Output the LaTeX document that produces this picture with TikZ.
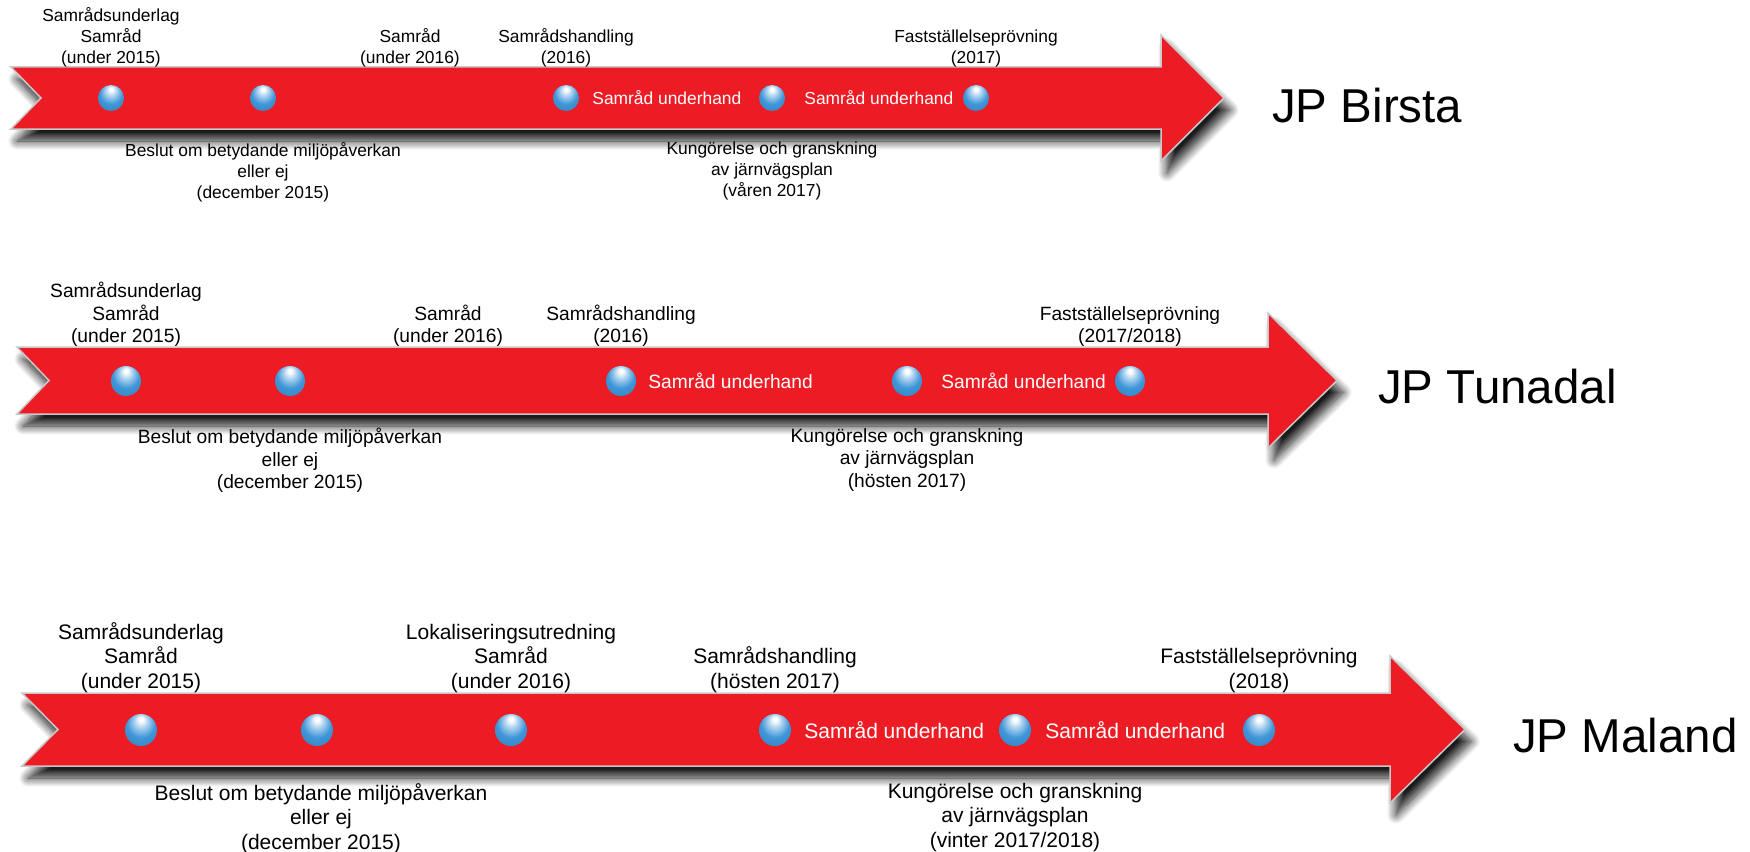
\documentclass[tikz,border=0pt]{standalone}
\usepackage{fontspec}
\setmainfont{Liberation Sans}
\usepackage{tikz}
\usetikzlibrary{positioning,shadows.blur}

\definecolor{bandred}{RGB}{237,28,36}
\definecolor{bandedge}{RGB}{200,200,200}
\definecolor{sphereblue}{RGB}{62,150,216}

\pgfdeclareradialshading{glassball}{\pgfpoint{0bp}{18bp}}{%
  color(0bp)=(white); color(3bp)=(white);
  color(11bp)=(sphereblue!45!white); color(22bp)=(sphereblue);
  color(40bp)=(sphereblue!85!black); color(50bp)=(sphereblue!72!black)}

\newcommand{\birstafont}{\fontsize{17.4}{21}\selectfont}
\newcommand{\tunadalfont}{\fontsize{19.2}{22.5}\selectfont}
\newcommand{\malandfont}{\fontsize{21}{24.5}\selectfont}

\tikzset{
  band/.style={fill=bandred, draw=bandedge, line width=1.5pt,
    blur shadow={shadow xshift=6pt, shadow yshift=-12pt, shadow blur radius=9pt,
      shadow opacity=90, shadow blur steps=12}},
  milestone/.style={circle, inner sep=0pt, minimum size=#1, shade, shading=glassball},
  note/.style={align=center, inner sep=0pt, text=black},
  inband/.style={inner sep=0pt, text=white},
  jp/.style={inner sep=0pt, font=\fontsize{47.5}{57}\selectfont}
}

\begin{document}
\begin{tikzpicture}[x=1pt, y=-1pt]
\useasboundingbox (0,0) rectangle (1750,851);

% JP Birsta
\path [band] (11,67) -- (1161,67) -- (1161,35) -- (1224,98) -- (1161,161)
  -- (1161,129) -- (11,129) -- (41,98) -- cycle;
\coordinate (birsta-top) at (0,67);
\coordinate (birsta-bottom) at (0,142);

\foreach \x [count=\i] in {111,263,566,772,976}
  \node [milestone=26pt] (birsta-\i) at (\x,98) {};

\node [note, font=\birstafont, anchor=south] (birsta-a1) at (birsta-1 |- birsta-top)
  {Samrådsunderlag\\Samråd\\(under 2015)};
\node [note, font=\birstafont, anchor=south] (birsta-a2) at (410,67) {Samråd\\(under 2016)};
\node [note, font=\birstafont, anchor=south] (birsta-a3) at (birsta-3 |- birsta-top)
  {Samrådshandling\\(2016)};
\node [note, font=\birstafont, anchor=south] (birsta-a4) at (birsta-5 |- birsta-top)
  {Fastställelseprövning\\(2017)};
\node [note, font=\birstafont, anchor=north] (birsta-b1) at (birsta-2 |- birsta-bottom)
  {Beslut om betydande miljöpåverkan\\eller ej\\(december 2015)};
\node [note, font=\birstafont, anchor=north] (birsta-b2) at (birsta-4 |- birsta-bottom)
  {Kungörelse och granskning\\av järnvägsplan\\(våren 2017)};
\node [inband, font=\birstafont, right=13pt of birsta-3] (birsta-u1) {Samråd underhand};
\node [inband, font=\birstafont, right=19pt of birsta-4] (birsta-u2) {Samråd underhand};
\node [jp, anchor=base west] (birsta-name) at (1272,122) {JP Birsta};

% JP Tunadal
\path [band] (17,347) -- (1268,347) -- (1268,313) -- (1337,380.5) -- (1268,448)
  -- (1268,414) -- (17,414) -- (49,380.5) -- cycle;
\coordinate (tunadal-top) at (0,347);
\coordinate (tunadal-bottom) at (0,428);

\foreach \x [count=\i] in {126,290,621,907,1130}
  \node [milestone=30pt] (tunadal-\i) at (\x,381) {};

\node [note, font=\tunadalfont, anchor=south] (tunadal-a1) at (tunadal-1 |- tunadal-top)
  {Samrådsunderlag\\Samråd\\(under 2015)};
\node [note, font=\tunadalfont, anchor=south] (tunadal-a2) at (448,347) {Samråd\\(under 2016)};
\node [note, font=\tunadalfont, anchor=south] (tunadal-a3) at (tunadal-3 |- tunadal-top)
  {Samrådshandling\\(2016)};
\node [note, font=\tunadalfont, anchor=south] (tunadal-a4) at (tunadal-5 |- tunadal-top)
  {Fastställelseprövning\\(2017/2018)};
\node [note, font=\tunadalfont, anchor=north] (tunadal-b1) at (tunadal-2 |- tunadal-bottom)
  {Beslut om betydande miljöpåverkan\\eller ej\\(december 2015)};
\node [note, font=\tunadalfont, anchor=north] (tunadal-b2) at (tunadal-4 |- tunadal-bottom)
  {Kungörelse och granskning\\av järnvägsplan\\(hösten 2017)};
\node [inband, font=\tunadalfont, right=12pt of tunadal-3] (tunadal-u1) {Samråd underhand};
\node [inband, font=\tunadalfont, right=19pt of tunadal-4] (tunadal-u2) {Samråd underhand};
\node [jp, anchor=base west] (tunadal-name) at (1378,403) {JP Tunadal};

% JP Maland
\path [band] (22,693) -- (1390,693) -- (1390,656) -- (1465,729.5) -- (1390,803)
  -- (1390,766) -- (22,766) -- (58,729.5) -- cycle;
\coordinate (maland-top) at (0,693);
\coordinate (maland-bottom) at (0,783);

\foreach \x [count=\i] in {141,317,511,775,1015,1259}
  \node [milestone=32pt] (maland-\i) at (\x,730) {};

\node [note, font=\malandfont, anchor=south] (maland-a1) at (maland-1 |- maland-top)
  {Samrådsunderlag\\Samråd\\(under 2015)};
\node [note, font=\malandfont, anchor=south] (maland-a2) at (maland-3 |- maland-top)
  {Lokaliseringsutredning\\Samråd\\(under 2016)};
\node [note, font=\malandfont, anchor=south] (maland-a3) at (maland-4 |- maland-top)
  {Samrådshandling\\(hösten 2017)};
\node [note, font=\malandfont, anchor=south] (maland-a4) at (maland-6 |- maland-top)
  {Fastställelseprövning\\(2018)};
\node [note, font=\malandfont, anchor=north] (maland-b1) at (321,783)
  {Beslut om betydande miljöpåverkan\\eller ej\\(december 2015)};
\node [note, font=\malandfont, anchor=north] (maland-b2) at (maland-5 |- maland-bottom)
  {Kungörelse och granskning\\av järnvägsplan\\(vinter 2017/2018)};
\node [inband, font=\malandfont, right=13pt of maland-4] (maland-u1) {Samråd underhand};
\node [inband, font=\malandfont, right=14pt of maland-5] (maland-u2) {Samråd underhand};
\node [jp, anchor=base west] (maland-name) at (1513,752) {JP Maland};

\end{tikzpicture}
\end{document}
